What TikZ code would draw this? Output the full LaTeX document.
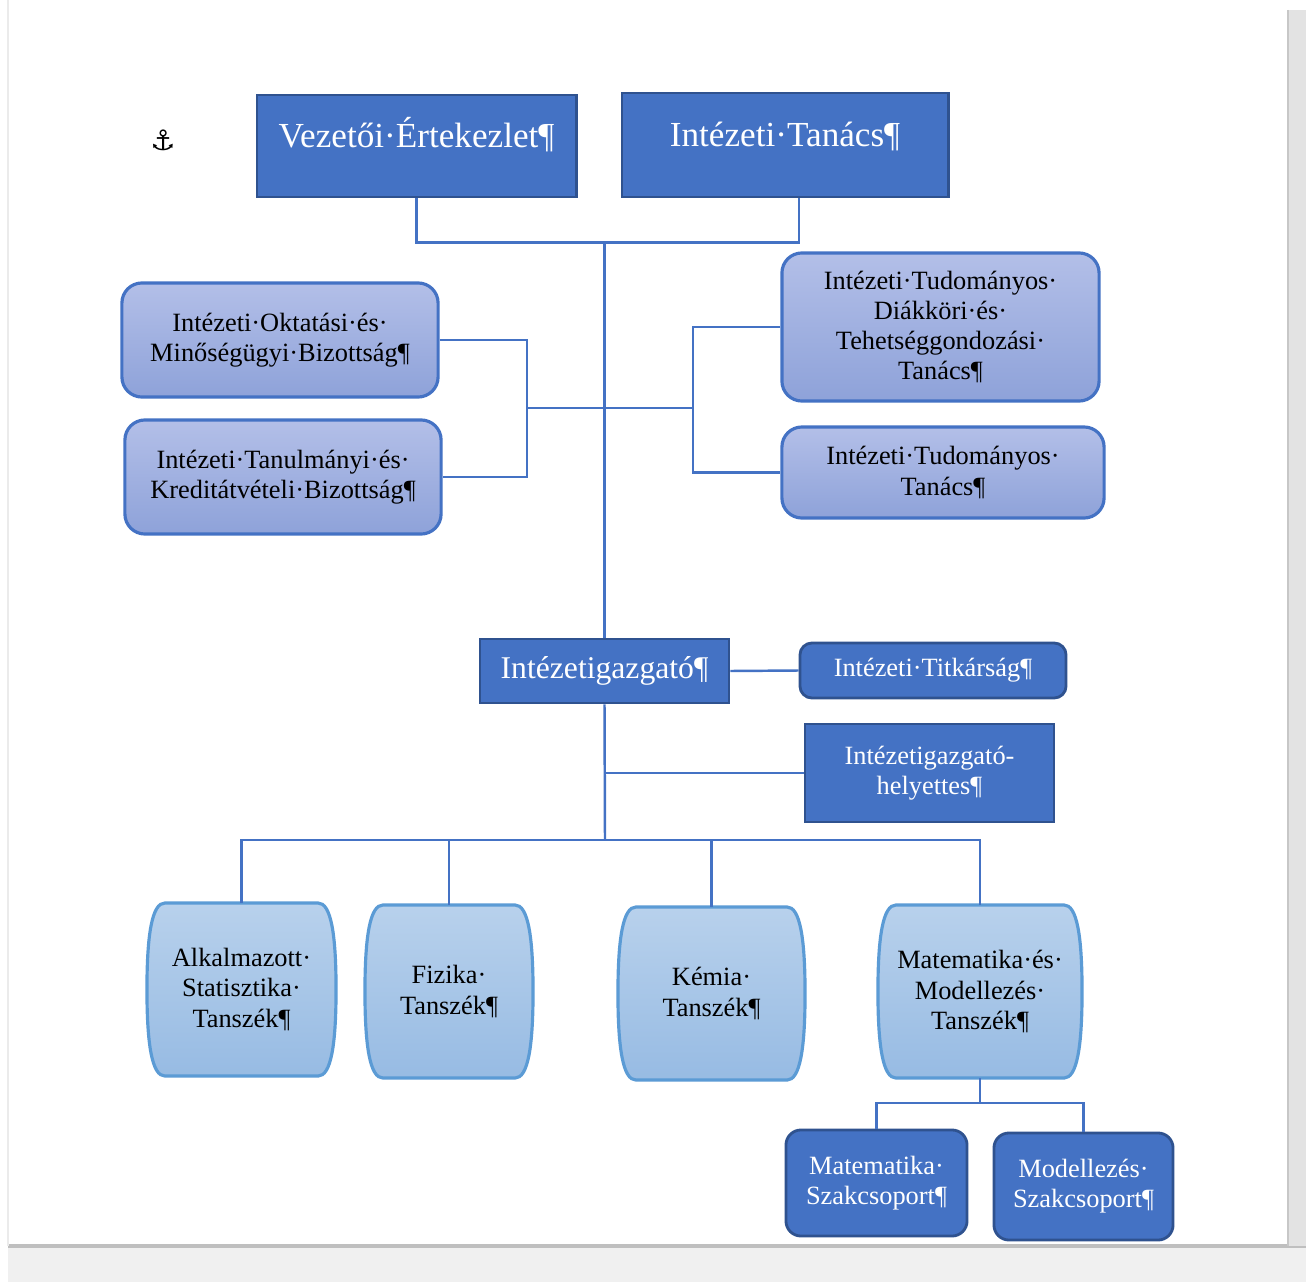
\documentclass[tikz,border=0pt]{standalone}
\usepackage{fontspec}
\setmainfont{Liberation Serif}
\newfontfamily\symbfont{DejaVu Sans}
\usepackage{tikz}
\usetikzlibrary{calc, backgrounds}
\definecolor{wordblue}{HTML}{4472C4}
\definecolor{wordedge}{HTML}{2F528F}
\definecolor{bizfelso}{HTML}{B3BFE8}
\definecolor{bizalso}{HTML}{8EA2D9}
\definecolor{tszfelso}{HTML}{B8D1EC}
\definecolor{tszalso}{HTML}{97BBE3}
\definecolor{tszedge}{HTML}{5B9BD5}
\tikzset{vezeto/.style={draw=wordedge, line width=0.8pt, fill=wordblue, text=white, align=center, font=\fontsize{7.5}{8.6}\selectfont}}
\tikzset{bizottsag/.style={draw=wordblue, line width=0.9pt, rounded corners=0.2cm, top color=bizfelso, bottom color=bizalso, align=center, font=\fontsize{7.5}{8.6}\selectfont}}
\tikzset{tanszek/.style={outer sep=0pt, align=center, font=\fontsize{7.5}{8.6}\selectfont}}
\tikzset{vonal/.style={draw=wordblue, line width=0.7pt}}

\begin{document}
\begin{tikzpicture}[x=0.01cm, y=-0.01cm]
            \useasboundingbox (0,0) rectangle (1306,1282);
            \node[font=\symbfont\fontsize{8}{8}\selectfont] (anker) at (163,140) {⚓};
            \node[vezeto, font=\fontsize{10}{12}\selectfont, text height=9pt, text depth=8pt, minimum width=3.19cm, minimum height=1.02cm] (ve) at (416.5,146) {Vezetői·Értekezlet¶};
            \node[vezeto, font=\fontsize{10}{12}\selectfont, text height=9pt, text depth=8pt, minimum width=3.26cm, minimum height=1.04cm] (it) at (785,145) {Intézeti·Tanács¶};
            \node[bizottsag, minimum width=3.16cm, minimum height=1.14cm] (omb) at (280,340) {Intézeti·Oktatási·és·\\Minőségügyi·Bizottság¶};
            \node[bizottsag, minimum width=3.16cm, minimum height=1.14cm] (tkb) at (283,477) {Intézeti·Tanulmányi·és·\\Kreditátvételi·Bizottság¶};
            \node[bizottsag, minimum width=3.17cm, minimum height=1.48cm] (tdt) at (940.5,327) {Intézeti·Tudományos·\\Diákköri·és·\\Tehetséggondozási·\\Tanács¶};
            \node[bizottsag, minimum width=3.22cm, minimum height=0.91cm] (tt) at (943,472.5) {Intézeti·Tudományos·\\Tanács¶};
            \node[vezeto, font=\fontsize{9}{11}\selectfont, minimum width=2.49cm, minimum height=0.64cm] (igaz) at (604.5,671) {Intézetigazgató¶};
            \node[vezeto, rounded corners=0.12cm, minimum width=2.66cm, minimum height=0.55cm] (titk) at (933,670.5) {Intézeti·Titkárság¶};
            \node[vezeto, minimum width=2.49cm, minimum height=0.98cm] (hely) at (929.5,773) {Intézetigazgató-\\helyettes¶};
            \node[tanszek, minimum width=1.89cm, minimum height=1.73cm] (stat) at (241.5,989.5) {Alkalmazott·\\Statisztika·\\Tanszék¶};
            \node[tanszek, minimum width=1.68cm, minimum height=1.73cm] (fiz) at (449,991.5) {Fizika·\\Tanszék¶};
            \node[tanszek, minimum width=1.87cm, minimum height=1.73cm] (kem) at (711.5,993.5) {Kémia·\\Tanszék¶};
            \node[tanszek, minimum width=2.04cm, minimum height=1.73cm] (matmod) at (980,991.5) {Matematika·és·\\Modellezés·\\Tanszék¶};
            \node[vezeto, rounded corners=0.15cm, minimum width=1.81cm, minimum height=1.06cm] (matsz) at (876.5,1183) {Matematika·\\Szakcsoport¶};
            \node[vezeto, rounded corners=0.15cm, minimum width=1.79cm, minimum height=1.07cm] (modsz) at (1083.5,1186.5) {Modellezés·\\Szakcsoport¶};
            \draw[vonal] (ve.south) -- ++(0,44) coordinate (felso) -| ([xshift=0.14cm]it.south);
            \draw[vonal] (igaz.north) -- (igaz.north |- felso);
            \coordinate (balcs) at (527,408);
            \coordinate (jobbcs) at (693,408);
            \draw[vonal] (omb.east) -| (balcs) |- (tkb.east);
            \draw[vonal] (balcs) -- (jobbcs);
            \draw[vonal] (tdt.west) -| (jobbcs) |- (tt.west);
            \draw[vonal] (igaz.east) -- (titk.west);
            \draw[vonal] (hely.west) -- (hely.west -| igaz.south);
            \coordinate (busz) at (605,840);
            \draw[vonal] (igaz.south) -- (busz);
            \draw[vonal] (stat.north) |- (busz) -| (matmod.north);
            \foreach \n in {fiz, kem} {
                \draw[vonal] (\n.north) -- (\n.north |- busz);
            }
            \draw[vonal] (matmod.south) -- ++(0,25) coordinate (mmelag);
            \draw[vonal] (matsz.north) |- (mmelag) -| (modsz.north);
            \begin{pgfonlayer}{background}
                \fill[white] (0,0) rectangle (1306,1282);
                \fill[black!6] (8,1246) rectangle (1306,1282);
                \draw[black!25, line width=1pt] (8,1246) -- (1306,1246);
                \fill[black!11] (1288,10) rectangle (1306,1246);
                \draw[black!22, line width=0.8pt] (1288,10) -- (1288,1246);
                \draw[black!8] (8,0) -- (8,1246);
                \foreach \n in {stat, fiz, kem, matmod} {
                    \draw[draw=tszedge, line width=0.9pt, top color=tszfelso, bottom color=tszalso]
                        ($(\n.north west)+(18,0)$) -- ($(\n.north east)+(-18,0)$)
                        .. controls ($(\n.north east)+(-5,0)$) and ($(\n.east)+(0,-55)$) .. (\n.east)
                        .. controls ($(\n.east)+(0,55)$) and ($(\n.south east)+(-5,0)$) .. ($(\n.south east)+(-18,0)$)
                        -- ($(\n.south west)+(18,0)$)
                        .. controls ($(\n.south west)+(5,0)$) and ($(\n.west)+(0,55)$) .. (\n.west)
                        .. controls ($(\n.west)+(0,-55)$) and ($(\n.north west)+(5,0)$) .. cycle;
                }
            \end{pgfonlayer}
        \end{tikzpicture}
\end{document}
